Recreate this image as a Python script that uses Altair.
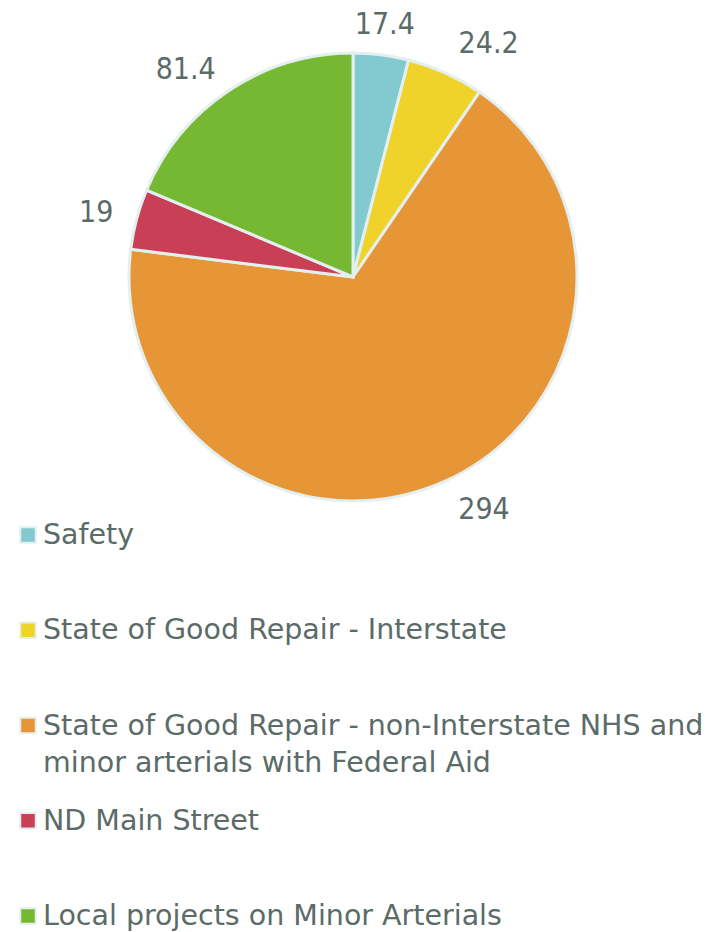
import altair as alt
import pandas as pd

categories = [
    "Safety",
    "State of Good Repair - Interstate",
    "State of Good Repair - non-Interstate NHS and\nminor arterials with Federal Aid",
    "ND Main Street",
    "Local projects on Minor Arterials",
]
values = [17.4, 24.2, 294, 19, 81.4]
value_labels = ["17.4", "24.2", "294", "19", "81.4"]
colors = ["#82cacf", "#efd22a", "#e69636", "#c93f55", "#77b832"]
order = [0, 1, 2, 3, 4]

df = pd.DataFrame({
    "category": categories,
    "value": values,
    "label": value_labels,
    "order": order,
})

LABEL_FONT = "DejaVu Sans Condensed, DejaVu Sans"
LEGEND_FONT = "DejaVu Sans"
TEXT_COLOR = "#5b6b68"
color_scale = alt.Scale(domain=categories, range=colors)
top_side = categories[:1]
right_side = categories[1:3]
left_side = categories[3:]

base = alt.Chart(df).encode(
    theta=alt.Theta("value:Q", stack=True),
    order=alt.Order("order:Q"),
)

arcs = base.mark_arc(outerRadius=224, stroke="#e4efef", strokeWidth=3).encode(
    color=alt.Color("category:N", scale=color_scale, legend=None)
)


def label_layer(group, align, radius):
    return base.mark_text(
        radius=radius, align=align, baseline="middle", font=LABEL_FONT,
        fontSize=30, color=TEXT_COLOR
    ).encode(
        text=alt.condition(
            alt.FieldOneOfPredicate(field="category", oneOf=group),
            alt.Text("label:N"),
            alt.value(""),
        )
    )


labels_top = label_layer(top_side, "center", 254)
labels_right = label_layer(right_side, "left", 256)
labels_left = label_layer(left_side, "right", 248)

pie = alt.layer(arcs, labels_top, labels_right, labels_left).properties(width=690, height=524)

ly = alt.Y(
    "category:N",
    sort=categories,
    scale=alt.Scale(type="point", domain=categories, range=[-18, 363], padding=0),
    axis=None,
)

leg_base = alt.Chart(df).encode(y=ly)
leg_sym = leg_base.mark_square(
    size=240, stroke="#e4efef", strokeWidth=2, yOffset=14, opacity=1
).encode(
    x=alt.value(20),
    color=alt.Color("category:N", scale=color_scale, legend=None),
)
leg_txt = leg_base.mark_text(
    align="left", baseline="top", font=LEGEND_FONT, fontSize=28.5, color=TEXT_COLOR,
    lineBreak="\n", lineHeight=37
).encode(
    x=alt.value(35),
    text="category:N",
)
legend = alt.layer(leg_sym, leg_txt).properties(width=690, height=370)

chart = (
    alt.vconcat(pie, legend, spacing=0, bounds="flush")
    .properties(padding=0)
    .configure_view(stroke=None)
)

chart.save("out.html", embed_options={"renderer": "svg", "actions": False})
